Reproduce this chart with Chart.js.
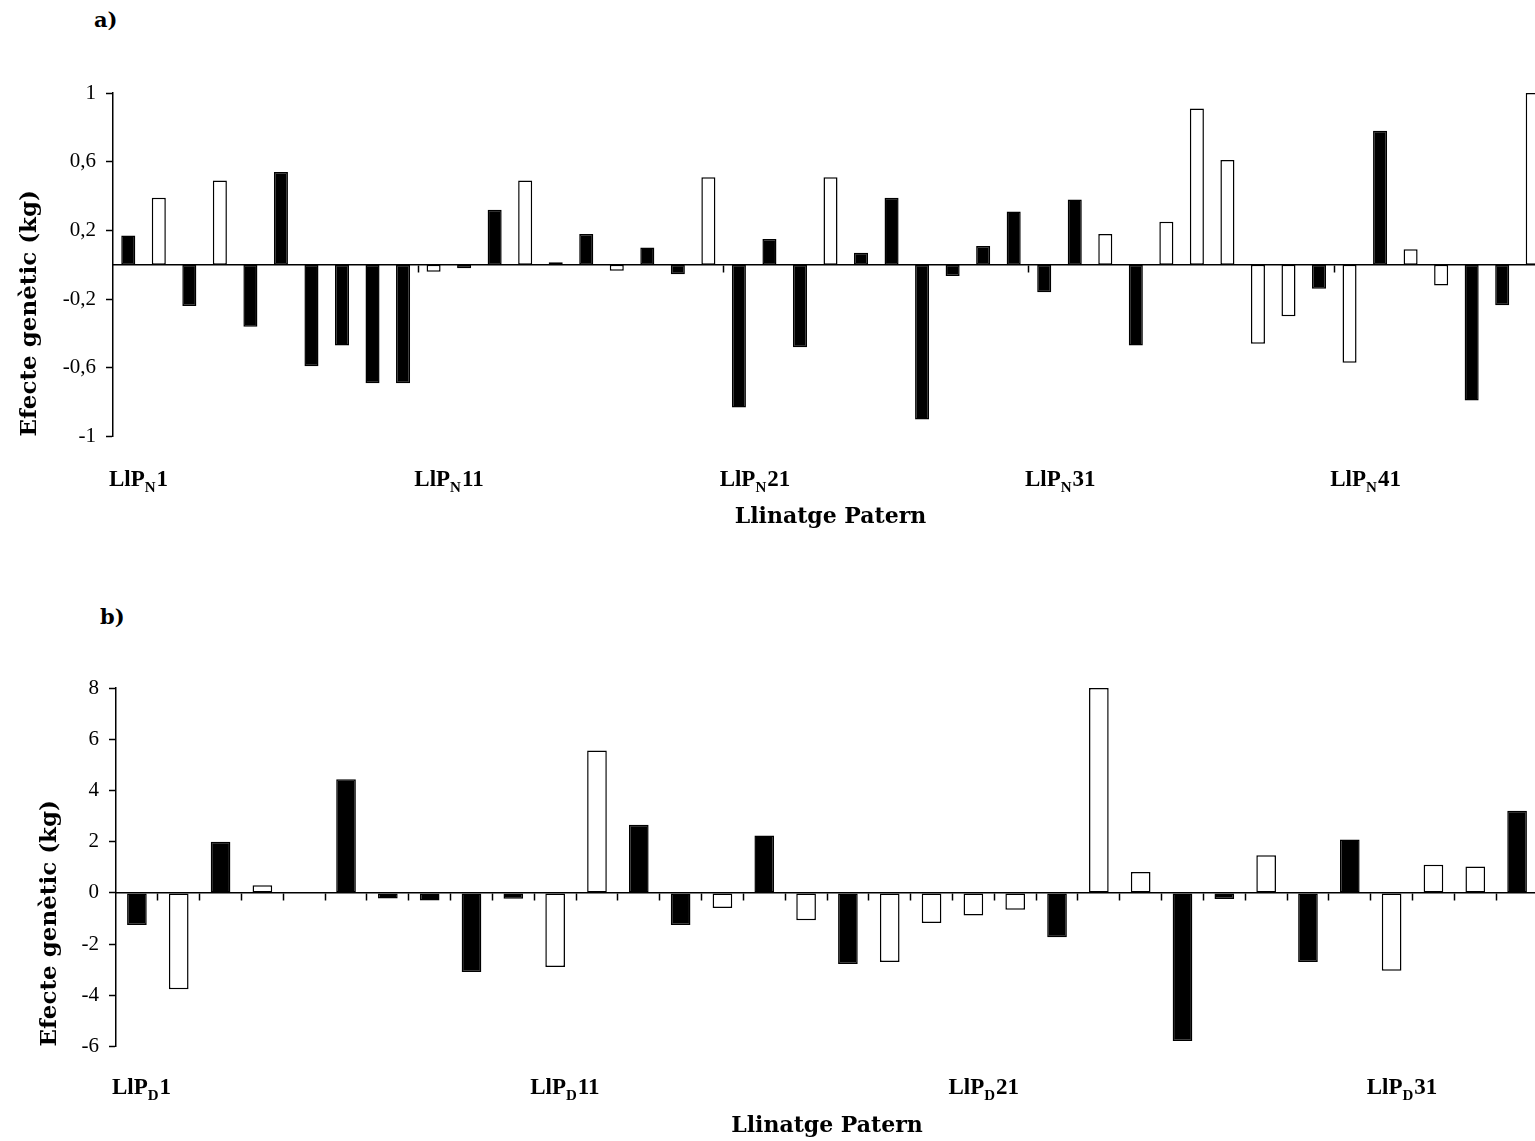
<!DOCTYPE html>
<html lang="ca">
<head>
<meta charset="UTF-8">
<title>Efecte genètic per llinatge patern</title>
<script src="https://cdn.jsdelivr.net/npm/chart.js@4.4.0/dist/chart.umd.min.js"></script>
<style>
  body { margin: 0; background: #fff; width: 1535px; height: 1141px; overflow: hidden; position: relative; }
  .panel { position: absolute; left: 0; width: 1560px; }
  .tag { position: absolute; font: bold 21px "DejaVu Serif", serif; color: #000; }
</style>
</head>
<body>
<div class="tag" style="left:94px; top:7px">a)</div>
<div class="panel" style="top:0; height:560px"><canvas id="chartA" width="1560" height="560"></canvas></div>
<div class="tag" style="left:100px; top:604px">b)</div>
<div class="panel" style="top:600px; height:541px"><canvas id="chartB" width="1560" height="541"></canvas></div>

<script>
// a) lineages LlP_N, values in kg, 1 = black bar, 0 = white bar
const aCats = Array.from({length: 47}, (_, i) => 'LlPN' + (i + 1));
const aVals = [0.17, 0.39, -0.24, 0.49, -0.36, 0.54, -0.59, -0.47, -0.69, -0.69,
               -0.04, -0.02, 0.32, 0.49, 0.015, 0.18, -0.035, 0.1, -0.055, 0.51,
               -0.83, 0.15, -0.48, 0.51, 0.07, 0.39, -0.9, -0.065, 0.11, 0.31,
               -0.16, 0.38, 0.18, -0.47, 0.25, 0.91, 0.61, -0.46, -0.3, -0.14,
               -0.57, 0.78, 0.09, -0.12, -0.79, -0.235, 1.0];
const aSig = [1, 0, 1, 0, 1, 1, 1, 1, 1, 1,
              0, 1, 1, 0, 1, 1, 0, 1, 1, 0,
              1, 1, 1, 0, 1, 1, 1, 1, 1, 1,
              1, 1, 0, 1, 0, 0, 0, 0, 0, 1,
              0, 1, 0, 0, 1, 1, 0];
const aShown = [1, 11, 21, 31, 41];

// b) lineages LlP_D
const bCats = Array.from({length: 34}, (_, i) => 'LlPD' + (i + 1));
const bVals = [-1.25, -3.76, 2.0, 0.3, null, 4.44, -0.22, -0.3, -3.09, -0.23,
               -2.89, 5.56, 2.66, -1.25, -0.59, 2.24, -1.07, -2.78, -2.7, -1.17,
               -0.88, -0.66, -1.73, 8.0, 0.82, -5.78, -0.24, 1.47, -2.7, 2.09,
               -3.04, 1.1, 1.03, 3.21];
const bSig = [1, 0, 1, 0, 0, 1, 1, 1, 1, 1,
              0, 0, 1, 1, 0, 1, 0, 1, 0, 0,
              0, 0, 1, 0, 0, 1, 1, 0, 1, 1,
              0, 0, 0, 1];
const bShown = [1, 11, 21, 31];

const fmt = v => String(Math.round(v * 10) / 10).replace('.', ',');

// category labels with subscript letter, left-aligned on the category boundary
const subLabels = {
  id: 'subLabels',
  afterDraw(chart, args, opts) {
    const x = chart.scales.x;
    const ctx = chart.ctx;
    const step = x.getPixelForValue(1) - x.getPixelForValue(0);
    const y = chart.chartArea.bottom + opts.gap;
    ctx.save();
    ctx.fillStyle = '#000';
    ctx.textAlign = 'left';
    ctx.textBaseline = 'alphabetic';
    opts.shown.forEach(n => {
      let px = x.getPixelForValue(n - 1) - step / 2 - 4;
      ctx.font = 'bold 23px "Liberation Serif"';
      ctx.fillText('LlP', px, y);
      px += ctx.measureText('LlP').width;
      ctx.font = 'bold 15px "Liberation Serif"';
      ctx.fillText(opts.sub, px, y + 6);
      px += ctx.measureText(opts.sub).width + 1;
      ctx.font = 'bold 23px "Liberation Serif"';
      ctx.fillText(String(n), px, y);
    });
    ctx.restore();
  }
};

function makeChart(id, cats, vals, sig, shown, sub, cfg) {
  return new Chart(document.getElementById(id), {
    type: 'bar',
    data: {
      labels: cats,
      datasets: [{
        data: vals,
        backgroundColor: sig.map(s => s ? '#000' : '#fff'),
        borderColor: '#000',
        borderWidth: 1.5,
        borderSkipped: false,
        barPercentage: cfg.bar,
        categoryPercentage: 1
      }]
    },
    options: {
      responsive: false,
      animation: false,
      layout: { padding: { top: cfg.top, bottom: cfg.bottom, right: cfg.right, left: 0 } },
      plugins: {
        legend: { display: false },
        tooltip: { enabled: false },
        subLabels: { shown: shown, sub: sub, gap: cfg.gap }
      },
      scales: {
        x: {
          offset: true,
          grid: { display: false, drawTicks: false },
          border: { display: false },
          ticks: { display: false },
          title: {
            display: true, text: 'Llinatge Patern', color: '#000',
            font: { family: 'DejaVu Serif', size: 22, weight: 'bold' },
            padding: { top: cfg.titleGap, bottom: 0 }
          }
        },
        x0: {
          type: 'category',
          position: { y: 0 },
          offset: true,
          border: { display: true, color: '#000', width: 1.5 },
          grid: {
            offset: true, drawOnChartArea: false, drawTicks: true, tickLength: 7, tickWidth: 1.5,
            tickColor: c => (c.index > 0 && c.index % cfg.every === 0) ? '#000' : 'rgba(0,0,0,0)'
          },
          ticks: { display: false }
        },
        y: {
          min: cfg.min, max: cfg.max,
          afterFit(s) { s.width = cfg.left; },
          border: { color: '#000', width: 1.5 },
          grid: { drawOnChartArea: false, tickLength: 7, tickWidth: 1.5, tickColor: '#000' },
          ticks: {
            stepSize: cfg.step, color: '#000', padding: 10,
            font: { family: 'Liberation Serif', size: 21 },
            callback: v => fmt(v)
          },
          title: {
            display: true, text: 'Efecte genètic (kg)', align: 'start', color: '#000',
            font: { family: 'DejaVu Serif', size: 23, weight: 'bold' },
            padding: { top: cfg.yTitle, bottom: 0 }
          }
        }
      }
    },
    plugins: [subLabels]
  });
}

makeChart('chartA', aCats, aVals, aSig, aShown, 'N', {
  min: -1, max: 1, step: 0.4, bar: 0.46, every: 10,
  top: 93, bottom: 30, right: 12, left: 113,
  gap: 49, titleGap: 67, yTitle: 16
});

makeChart('chartB', bCats, bVals, bSig, bShown, 'D', {
  min: -6, max: 8, step: 2, bar: 0.47, every: 1,
  top: 88, bottom: 2, right: 22, left: 116,
  gap: 47, titleGap: 66, yTitle: 36
});
</script>
</body>
</html>
